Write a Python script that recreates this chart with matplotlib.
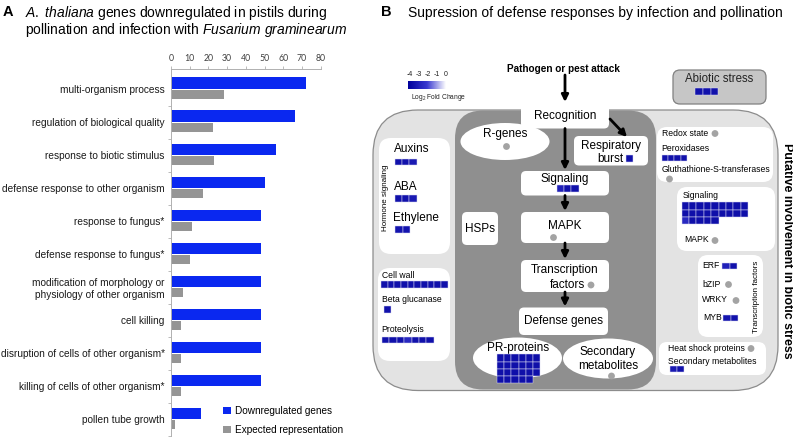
import numpy as np
import matplotlib
matplotlib.use("Agg")
import matplotlib.pyplot as plt
from matplotlib.patches import Rectangle, FancyBboxPatch, Ellipse, Circle, FancyArrowPatch
from matplotlib.colors import LinearSegmentedColormap, Normalize

plt.rcParams['font.family'] = ['Liberation Sans', 'DejaVu Sans']
plt.rcParams['mathtext.fontset'] = 'custom'
plt.rcParams['mathtext.rm'] = 'Liberation Sans'
plt.rcParams['mathtext.it'] = 'Liberation Sans:italic'
plt.rcParams['mathtext.bf'] = 'Liberation Sans:bold'

# ---------------- Panel A data ----------------
categories = [
    "multi-organism process",
    "regulation of biological quality",
    "response to biotic stimulus",
    "defense response to other organism",
    "response to fungus*",
    "defense response to fungus*",
    "modification of morphology or\nphysiology of other organism",
    "cell killing",
    "disruption of cells of other organism*",
    "killing of cells of other organism*",
    "pollen tube growth",
]
downregulated = [72, 66, 56, 50, 48, 48, 48, 48, 48, 48, 16]
expected = [28.5, 22.5, 23, 17, 11, 10, 6.5, 5.5, 5.5, 5.5, 2.3]
x_ticks = [0, 10, 20, 30, 40, 50, 60, 70, 80]
series_labels = ["Downregulated genes", "Expected representation"]

# ---------------- Panel B data (log2 fold change of each gene square) ----------------
cbar_ticks = [-4, -3, -2, -1, 0]
abiotic_fc = [-3.4, -3.4, -3.4]
signaling_mid_fc = [-2.9, -3.4, -3.4]
resp_burst_fc = [-3.4]
pr_proteins_fc = [-3.5, -3.5, -3.5, -3.5, -3.5, -3.5,
                  -3.5, -3.5, -3.5, -3.5, -3.5, -3.5,
                  -3.5, -3.5, -3.5, -3.5, -3.5, -3.5,
                  -3.5, -3.5, -3.5, -3.5, -3.5]
auxins_fc = [-3.4, -3.4, -3.1]
aba_fc = [-3.4, -3.4, -3.1]
ethylene_fc = [-3.3, -3.3]
cell_wall_fc = [-3.4, -3.4, -3.4, -3.4, -3.4, -3.4, -3.4, -3.4, -3.4, -3.4]
beta_glucanase_fc = [-3.4]
proteolysis_fc = [-3.4, -3.4, -3.4, -2.6, -3.4, -3.4, -3.4]
peroxidases_fc = [-3.4, -3.4, -3.4, -3.4]
signaling_right_fc = [-3.5, -3.5, -3.5, -3.5, -3.5, -3.5, -3.5, -3.5, -3.5,
                      -3.5, -3.5, -3.5, -3.5, -3.5, -3.5, -3.5, -3.5, -3.5,
                      -2.6, -3.5, -3.5, -3.5, -3.5]
erf_fc = [-2.9, -3.4]
myb_fc = [-3.3, -3.4]
sec_metab_fc = [-3.1, -3.4]

W, H = 793, 440
fig = plt.figure(figsize=(W / 100, H / 100), dpi=100)

# ================= Panel A =================
ax_left, ax_right = 171, 320.7
ax_top, ax_bot = 69, 436
ax = fig.add_axes([ax_left / W, 1 - ax_bot / H, (ax_right - ax_left) / W, (ax_bot - ax_top) / H])
y = np.arange(len(categories))
blue_bars = ax.barh(y - 0.35, downregulated, height=0.35, align='edge', color='#0a28f0', label=series_labels[0])
grey_bars = ax.barh(y + 0.02, expected, height=0.28, align='edge', color='#959595', label=series_labels[1])
ax.set_xlim(0, 80)
ax.set_ylim(10.5, -0.605)
ax.xaxis.tick_top()
ax.set_xticks(x_ticks)
ax.set_xticklabels([str(t) for t in x_ticks], fontsize=6.3, color='#404040', family='Lato')
ax.tick_params(axis='x', length=2.5, width=0.6, color='#b0b0b0', pad=2)
ax.set_yticks(y)
ax.set_yticklabels(categories, fontsize=7.3, color='#1a1a1a')
ax.tick_params(axis='y', length=0, pad=4.5)
ax.set_yticks(np.arange(len(categories)) + 0.5, minor=True)
ax.tick_params(axis='y', which='minor', length=2.5, width=0.6, color='#b0b0b0')
for s in ['right', 'bottom']:
    ax.spines[s].set_visible(False)
for s in ['left', 'top']:
    ax.spines[s].set_color('#b0b0b0')
    ax.spines[s].set_linewidth(0.7)
ax.set_facecolor('none')
leg = fig.legend(handles=[blue_bars, grey_bars], labels=series_labels, loc='upper left',
                 bbox_to_anchor=(223 / W, 1 - 406 / H), frameon=False, fontsize=7.2,
                 handlelength=0.75, handleheight=0.75, handletextpad=0.45,
                 labelspacing=0.9, borderpad=0, borderaxespad=0)

# ================= Overlay axes in pixel coordinates =================
ov = fig.add_axes([0, 0, 1, 1], zorder=5)
ov.set_xlim(0, W)
ov.set_ylim(H, 0)
ov.axis('off')
ov.set_facecolor('none')

# Titles
ov.text(3, 12, "A", fontsize=10.5, fontweight='bold', va='center', ha='left')
ov.text(25, 12.5, r"$\mathit{A.\ thaliana}$ genes downregulated in pistils during", fontsize=10, va='center', ha='left')
ov.text(25, 30, r"pollination and infection with $\mathit{Fusarium\ graminearum}$", fontsize=10, va='center', ha='left')
ov.text(381, 12.5, "B", fontsize=10.5, fontweight='bold', va='center', ha='left')
ov.text(408, 12.5, "Supression of defense responses by infection and pollination", fontsize=10, va='center', ha='left')

# Colormap
cmap = LinearSegmentedColormap.from_list('fc', ['#00009c', '#3a3ad0', '#ffffff'])
norm = Normalize(vmin=-4, vmax=0)

def squares(x0, y0, vals, ncols, w=7.2, h=6.6):
    for k, v in enumerate(vals):
        r, c = divmod(k, ncols)
        ov.add_patch(Rectangle((x0 + c * w, y0 + r * h), w, h, facecolor=cmap(norm(v)),
                               edgecolor='#d8d8f0', lw=0.35, zorder=6))

def rbox(x0, x1, y0, y1, r, fc='white', ec='none', lw=0.8, z=3):
    ov.add_patch(FancyBboxPatch((x0, y0), x1 - x0, y1 - y0,
                                boxstyle=f"round,pad=0,rounding_size={r}",
                                facecolor=fc, edgecolor=ec, lw=lw, zorder=z))

def dot(x, yy, r=3.4):
    ov.add_patch(Circle((x, yy), r, facecolor='#a3a3a3', edgecolor='none', zorder=6))

def arrow(x0, y0, x1, y1):
    ov.add_patch(FancyArrowPatch((x0, y0), (x1, y1), arrowstyle='-|>', mutation_scale=10,
                                 lw=2.0, color='black', zorder=7, shrinkA=0, shrinkB=0))

# colorbar
grad = np.linspace(-4, 0, 256).reshape(1, -1)
ov.imshow(grad, cmap=cmap, norm=norm, extent=(408, 446, 89.3, 81.7), aspect='auto', zorder=4)
ov.set_xlim(0, W)
ov.set_ylim(H, 0)
cb_pos = np.interp(cbar_ticks, [-4, 0], [410, 446])
for t, xp in zip(cbar_ticks, cb_pos):
    ov.text(xp, 75, str(t), fontsize=5, ha='center', va='center', color='#222222')
ov.text(411, 97.5, r"Log$_2$ Fold Change", fontsize=4.8, ha='left', va='center', color='#222222')

# Pathogen
ov.text(563, 68.5, "Pathogen or pest attack", fontsize=7.2, fontweight='bold', ha='center', va='center')
arrow(565, 75, 565, 102)

# Abiotic stress
rbox(673, 766, 70, 104, 7, fc='#c6c6c6', ec='#808080', lw=0.9)
ov.text(719.5, 78.5, "Abiotic stress", fontsize=8.3, ha='center', va='center', color='#222222')
squares(695, 88.5, abiotic_fc, 3, w=7.8, h=6.2)

# Outer big box and inner dark region
rbox(373, 778, 110, 390.5, 45, fc='#e3e3e3', ec='#8c8c8c', lw=0.9, z=1)
rbox(455, 656, 110.5, 389.5, 28, fc='#8f8f8f', ec='none', z=2)

# Central pathway boxes
rbox(521, 609, 103, 128.5, 5)
ov.text(565, 115.5, "Recognition", fontsize=8.5, ha='center', va='center', zorder=6)
arrow(565, 128.5, 565, 170)
arrow(610, 119, 627, 137)

ov.add_patch(Ellipse((505, 141.5), 89, 37, facecolor='white', edgecolor='none', zorder=3))
ov.text(505, 134, "R-genes", fontsize=8.5, ha='center', va='center', zorder=6)
dot(506.5, 146.5)

rbox(574, 648, 136, 165.5, 5)
ov.text(611, 146, "Respiratory", fontsize=8.5, ha='center', va='center', zorder=6)
ov.text(623.5, 158.5, "burst", fontsize=8.5, ha='right', va='center', zorder=6)
squares(626, 155, resp_burst_fc, 1, w=7.0, h=6.6)

rbox(521, 609, 171, 195.5, 5)
ov.text(565, 179, "Signaling", fontsize=8.5, ha='center', va='center', zorder=6)
squares(557, 185.5, signaling_mid_fc, 3, w=7.2, h=6.4)
arrow(565, 195.5, 565, 211)

rbox(521, 609, 212, 243, 5)
ov.text(565, 226, "MAPK", fontsize=8.5, ha='center', va='center', zorder=6)
dot(553.5, 237.5)
arrow(565, 243, 565, 259)

rbox(521, 609, 260, 292, 5)
ov.text(565, 270, "Transcription", fontsize=8.5, ha='center', va='center', zorder=6)
ov.text(567, 284.5, "factors", fontsize=8.5, ha='center', va='center', zorder=6)
dot(591, 285)
arrow(565, 292, 565, 306.5)

rbox(519, 608, 307.5, 335, 5)
ov.text(564, 321, "Defense genes", fontsize=8.5, ha='center', va='center', zorder=6)

ov.add_patch(Ellipse((517.5, 358), 89, 41, facecolor='white', edgecolor='none', zorder=3))
ov.text(518.5, 347.5, "PR-proteins", fontsize=8.5, ha='center', va='center', zorder=6)
squares(497, 354.5, pr_proteins_fc, 6, w=7.2, h=7.1)

ov.add_patch(Ellipse((608, 358.5), 90, 40, facecolor='white', edgecolor='none', zorder=3))
ov.text(608, 351.5, "Secondary", fontsize=8.5, ha='center', va='center', zorder=6)
ov.text(608, 366, "metabolites", fontsize=8.5, ha='center', va='center', zorder=6)
dot(611.5, 376)

rbox(462, 498, 212, 245, 5)
ov.text(480, 228.5, "HSPs", fontsize=8.5, ha='center', va='center', zorder=6)

# Left column
rbox(379, 450, 138, 254, 12)
ov.text(385.5, 198, "Hormone signaling", fontsize=5.8, rotation=90, ha='center', va='center', zorder=6)
ov.text(393.5, 149.5, "Auxins", fontsize=8.5, ha='left', va='center', zorder=6)
squares(395, 159, auxins_fc, 3, w=7.2, h=6.3)
ov.text(393.5, 186.5, "ABA", fontsize=8.5, ha='left', va='center', zorder=6)
squares(395, 195.5, aba_fc, 3, w=7.2, h=6.3)
ov.text(393.5, 218, "Ethylene", fontsize=8.5, ha='left', va='center', zorder=6)
squares(395, 226.5, ethylene_fc, 2, w=7.6, h=6.3)

rbox(378, 450, 268, 361, 12)
ov.text(381.5, 276, "Cell wall", fontsize=6.2, ha='left', va='center', zorder=6)
squares(381, 281.5, cell_wall_fc, 10, w=6.65, h=6.3)
ov.text(381.5, 299, "Beta glucanase", fontsize=6.2, ha='left', va='center', zorder=6)
squares(384, 306, beta_glucanase_fc, 1, w=7.0, h=6.6)
ov.text(381.5, 329.5, "Proteolysis", fontsize=6.2, ha='left', va='center', zorder=6)
squares(382, 337, proteolysis_fc, 7, w=7.4, h=6.3)

# Right column
rbox(657, 773, 127, 182, 10)
ov.text(661.5, 134, "Redox state", fontsize=6.2, ha='left', va='center', zorder=6)
dot(715, 133.5)
ov.text(661.5, 148.5, "Peroxidases", fontsize=6.2, ha='left', va='center', zorder=6)
squares(662, 155, peroxidases_fc, 4, w=6.2, h=6.4)
ov.text(661.5, 170, "Gluthathione-S-transferases", fontsize=6.2, ha='left', va='center', zorder=6)
dot(669.5, 179)

rbox(677, 775, 187, 251, 10)
ov.text(683, 195, "Signaling", fontsize=6.2, ha='left', va='center', zorder=6)
squares(681.5, 202.5, signaling_right_fc, 9, w=7.4, h=7.3)
ov.text(684.5, 240, "MAPK", fontsize=6.2, ha='left', va='center', zorder=6)
dot(715, 240.5)

rbox(698, 763, 255, 337, 10)
ov.text(756.5, 297, "Transcription factors", fontsize=5.8, rotation=90, ha='center', va='center', zorder=6)
ov.text(702, 266, "ERF", fontsize=6.2, ha='left', va='center', zorder=6)
squares(722, 263, erf_fc, 2, w=7.6, h=6.0)
ov.text(702, 284.5, "bZIP", fontsize=6.2, ha='left', va='center', zorder=6)
dot(728.5, 284.5)
ov.text(702, 299.5, "WRKY", fontsize=6.2, ha='left', va='center', zorder=6)
dot(736, 300.5)
ov.text(703, 318, "MYB", fontsize=6.2, ha='left', va='center', zorder=6)
squares(723, 315, myb_fc, 2, w=7.6, h=6.0)

rbox(659, 766, 342, 375, 8)
ov.text(668, 348.5, "Heat shock proteins", fontsize=6.2, ha='left', va='center', zorder=6)
dot(751, 348.5)
ov.text(668, 361, "Secondary metabolites", fontsize=6.2, ha='left', va='center', zorder=6)
squares(670, 366, sec_metab_fc, 2, w=7.2, h=6.2)

ov.text(787.5, 251, "Putative involvement in biotic stress", fontsize=8.9, fontweight='bold',
        rotation=270, ha='center', va='center', zorder=6)

fig.savefig("out.png", dpi=100)
